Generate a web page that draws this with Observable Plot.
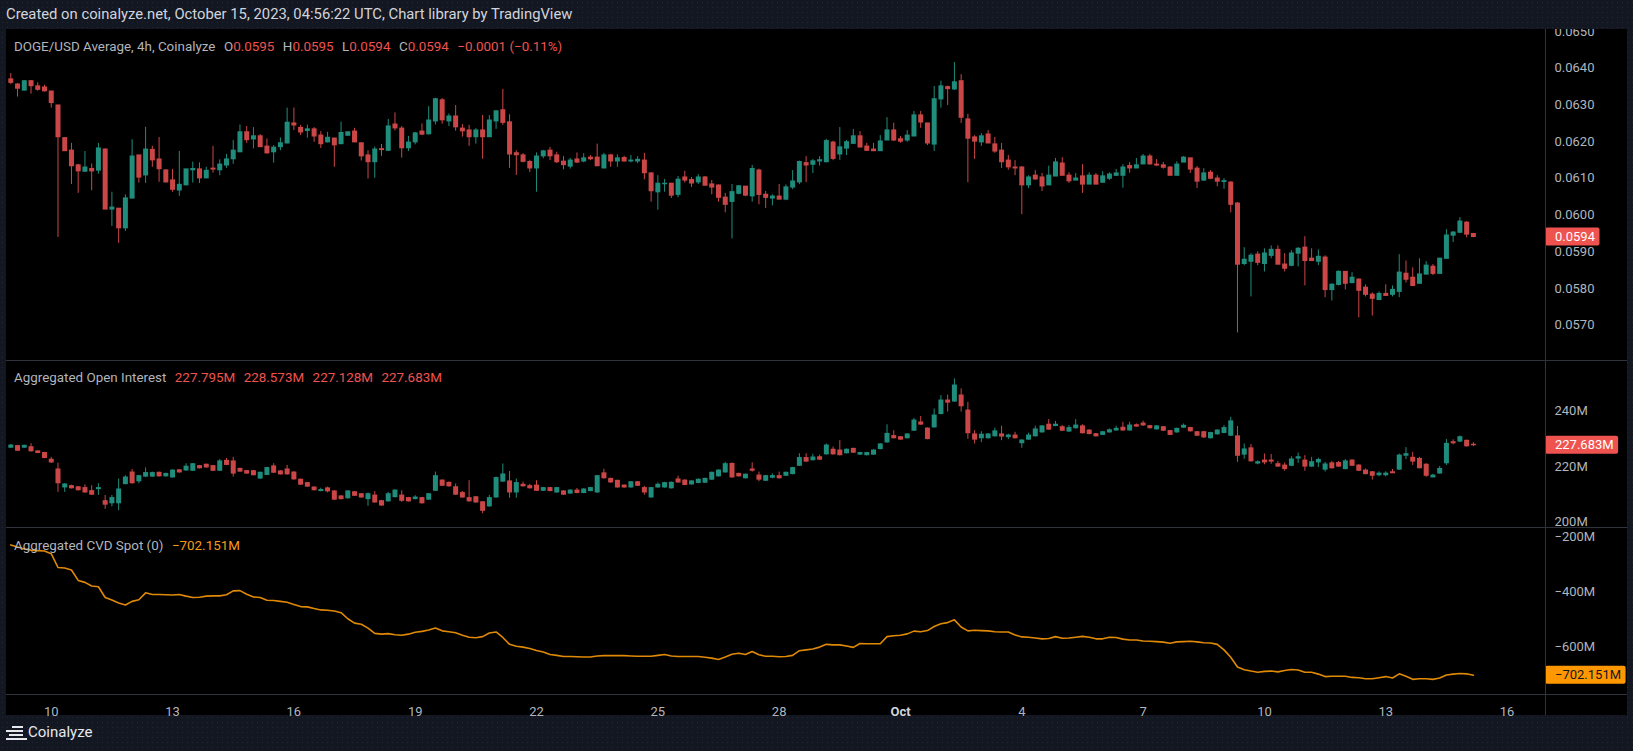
<!DOCTYPE html>
<html><head><meta charset="utf-8">
<script src="https://cdn.jsdelivr.net/npm/d3@7"></script>
<script src="https://cdn.jsdelivr.net/npm/@observablehq/plot@0.6"></script>
<style>
html,body{margin:0;padding:0;background:#131722;}
#root{position:relative;width:1633px;height:751px;overflow:hidden;background-color:#131722;
  background-image:radial-gradient(rgba(255,255,255,0.07) 0.7px, transparent 0.9px);background-size:5px 5px;
  font-family:Roboto, sans-serif;}
#hdr{position:absolute;left:6px;top:4px;font-size:14.8px;line-height:20px;color:#d1d4dc;white-space:nowrap;}
#panel{position:absolute;left:6px;top:29px;width:1621px;height:686px;background:#000;overflow:visible;}
.pane{position:absolute;left:0;}
.leg{position:absolute;left:8px;font-size:13.4px;line-height:18px;color:#b2b5be;white-space:nowrap;}
.leg .v{margin-left:8.5px;}
.red{color:#ef5350;}
.grn{color:#26a69a;}
.org{color:#f59a1b;}
.hl{position:absolute;left:0;width:1621px;height:1px;background:#2f333e;}
.vl{position:absolute;top:0;width:1px;height:686px;background:#2f333e;}
#foot{position:absolute;left:28px;top:722px;font-size:15px;line-height:20px;color:#e6e8ee;}
.ic{position:absolute;height:2px;background:#e6e8ee;}
</style></head>
<body>
<div id="root">
  <div id="hdr">Created on coinalyze.net, October 15, 2023, 04:56:22 UTC, Chart library by TradingView</div>
  <div id="panel"></div>
  <div class="ic" style="left:12px;top:726px;width:11px"></div>
  <div class="ic" style="left:6px;top:730px;width:17px"></div>
  <div class="ic" style="left:9px;top:734px;width:14px"></div>
  <div class="ic" style="left:6px;top:738px;width:21px"></div>
  <div id="foot">Coinalyze</div>
</div>
<script>
// ---------- data ----------
const startTime = "2023-09-09T00:00:00Z";   // first 4h candle
const stepHours = 4;

const priceO = [0.06369,0.06355,0.06339,0.06364,0.06350,0.06347,0.06336,0.06298,0.06209,0.06175,
0.06135,0.06118,0.06125,0.06121,0.06178,0.06015,0.06017,0.05964,0.06045,0.06162,
0.06108,0.06177,0.06151,0.06121,0.06094,0.06067,0.06081,0.06122,0.06124,0.06100,
0.06126,0.06122,0.06135,0.06152,0.06171,0.06225,0.06206,0.06214,0.06186,0.06171,
0.06185,0.06195,0.06249,0.06237,0.06229,0.06233,0.06216,0.06198,0.06208,0.06193,
0.06216,0.06227,0.06195,0.06162,0.06144,0.06179,0.06175,0.06246,0.06235,0.06182,
0.06198,0.06227,0.06220,0.06255,0.06312,0.06255,0.06268,0.06235,0.06230,0.06212,
0.06230,0.06212,0.06255,0.06285,0.06252,0.06168,0.06162,0.06144,0.06127,0.06160,
0.06175,0.06162,0.06145,0.06132,0.06151,0.06146,0.06156,0.06156,0.06127,0.06162,
0.06146,0.06155,0.06146,0.06146,0.06148,0.06113,0.06062,0.06084,0.06085,0.06055,
0.06102,0.06095,0.06089,0.06102,0.06083,0.06080,0.06047,0.06036,0.06058,0.06077,
0.06051,0.06121,0.06055,0.06045,0.06050,0.06042,0.06075,0.06089,0.06141,0.06137,
0.06146,0.06144,0.06197,0.06165,0.06181,0.06194,0.06214,0.06186,0.06178,0.06174,
0.06203,0.06230,0.06206,0.06203,0.06214,0.06271,0.06249,0.06192,0.06315,0.06348,
0.06342,0.06364,0.06260,0.06211,0.06198,0.06219,0.06192,0.06175,0.06148,0.06129,
0.06129,0.06081,0.06107,0.06102,0.06081,0.06105,0.06140,0.06107,0.06094,0.06105,
0.06083,0.06107,0.06088,0.06099,0.06107,0.06107,0.06133,0.06127,0.06138,0.06159,
0.06137,0.06135,0.06129,0.06107,0.06143,0.06154,0.06126,0.06094,0.06115,0.06099,
0.06090,0.06088,0.06031,0.05867,0.05873,0.05892,0.05867,0.05889,0.05905,0.05865,
0.05862,0.05895,0.05911,0.05881,0.05873,0.05884,0.05796,0.05810,0.05845,0.05815,
0.05824,0.05802,0.05783,0.05769,0.05785,0.05783,0.05791,0.05840,0.05829,0.05813,
0.05838,0.05859,0.05840,0.05881,0.05944,0.05952,0.05979,0.05948];

const priceH = [0.06385,0.06358,0.06366,0.06366,0.06360,0.06353,0.06336,0.06298,0.06211,0.06195,
0.06138,0.06173,0.06139,0.06195,0.06180,0.06062,0.06017,0.06055,0.06205,0.06162,
0.06239,0.06187,0.06211,0.06124,0.06124,0.06173,0.06124,0.06144,0.06142,0.06130,
0.06187,0.06150,0.06165,0.06203,0.06245,0.06241,0.06238,0.06219,0.06207,0.06189,
0.06210,0.06291,0.06291,0.06244,0.06245,0.06238,0.06227,0.06225,0.06208,0.06253,
0.06225,0.06236,0.06196,0.06175,0.06185,0.06192,0.06260,0.06278,0.06241,0.06214,
0.06225,0.06248,0.06295,0.06318,0.06317,0.06275,0.06298,0.06246,0.06244,0.06235,
0.06271,0.06271,0.06284,0.06342,0.06273,0.06175,0.06167,0.06149,0.06169,0.06176,
0.06184,0.06171,0.06159,0.06154,0.06169,0.06167,0.06162,0.06193,0.06168,0.06165,
0.06164,0.06160,0.06162,0.06159,0.06168,0.06115,0.06107,0.06097,0.06085,0.06105,
0.06119,0.06102,0.06110,0.06105,0.06094,0.06082,0.06059,0.06083,0.06080,0.06077,
0.06135,0.06125,0.06064,0.06055,0.06083,0.06082,0.06121,0.06147,0.06159,0.06151,
0.06159,0.06206,0.06201,0.06238,0.06203,0.06233,0.06227,0.06195,0.06195,0.06216,
0.06265,0.06250,0.06214,0.06230,0.06282,0.06282,0.06249,0.06350,0.06364,0.06351,
0.06415,0.06382,0.06274,0.06216,0.06222,0.06230,0.06211,0.06195,0.06162,0.06148,
0.06132,0.06107,0.06121,0.06113,0.06133,0.06154,0.06156,0.06115,0.06113,0.06137,
0.06115,0.06113,0.06118,0.06115,0.06124,0.06137,0.06143,0.06154,0.06165,0.06165,
0.06151,0.06143,0.06132,0.06145,0.06159,0.06154,0.06132,0.06126,0.06121,0.06107,
0.06099,0.06091,0.06034,0.05911,0.05895,0.05900,0.05908,0.05916,0.05916,0.05895,
0.05903,0.05911,0.05941,0.05908,0.05905,0.05889,0.05813,0.05848,0.05845,0.05843,
0.05826,0.05810,0.05788,0.05791,0.05810,0.05807,0.05892,0.05875,0.05856,0.05881,
0.05873,0.05865,0.05881,0.05960,0.05955,0.05993,0.05982,0.05950];

const priceL = [0.06355,0.06321,0.06337,0.06329,0.06337,0.06335,0.06291,0.05939,0.06173,0.06083,
0.06059,0.06116,0.06066,0.06111,0.06015,0.05969,0.05923,0.05955,0.06044,0.06087,
0.06086,0.06130,0.06089,0.06087,0.06062,0.06051,0.06080,0.06087,0.06086,0.06099,
0.06114,0.06107,0.06127,0.06138,0.06170,0.06195,0.06180,0.06184,0.06166,0.06141,
0.06175,0.06194,0.06230,0.06216,0.06209,0.06198,0.06181,0.06196,0.06130,0.06192,
0.06215,0.06197,0.06147,0.06098,0.06100,0.06160,0.06173,0.06229,0.06155,0.06173,
0.06191,0.06216,0.06218,0.06245,0.06247,0.06241,0.06228,0.06212,0.06187,0.06193,
0.06152,0.06211,0.06233,0.06244,0.06127,0.06108,0.06142,0.06116,0.06062,0.06153,
0.06148,0.06140,0.06123,0.06125,0.06140,0.06142,0.06148,0.06133,0.06126,0.06130,
0.06130,0.06144,0.06142,0.06140,0.06096,0.06035,0.06013,0.06062,0.06045,0.06047,
0.06087,0.06075,0.06083,0.06079,0.06055,0.06035,0.06006,0.05935,0.06055,0.06050,
0.06035,0.06028,0.06018,0.06025,0.06042,0.06039,0.06069,0.06083,0.06088,0.06113,
0.06133,0.06142,0.06148,0.06149,0.06162,0.06192,0.06184,0.06173,0.06173,0.06173,
0.06203,0.06200,0.06195,0.06198,0.06214,0.06236,0.06189,0.06173,0.06291,0.06298,
0.06339,0.06249,0.06088,0.06151,0.06187,0.06195,0.06168,0.06127,0.06122,0.06107,
0.06001,0.06072,0.06095,0.06064,0.06080,0.06105,0.06107,0.06086,0.06094,0.06059,
0.06083,0.06083,0.06088,0.06094,0.06105,0.06073,0.06114,0.06127,0.06137,0.06136,
0.06132,0.06125,0.06107,0.06107,0.06143,0.06113,0.06072,0.06091,0.06096,0.06077,
0.06070,0.06006,0.05679,0.05862,0.05777,0.05862,0.05845,0.05881,0.05865,0.05845,
0.05859,0.05859,0.05807,0.05875,0.05862,0.05775,0.05766,0.05807,0.05796,0.05813,
0.05720,0.05777,0.05725,0.05769,0.05780,0.05777,0.05775,0.05815,0.05805,0.05813,
0.05838,0.05835,0.05840,0.05881,0.05925,0.05949,0.05938,0.05938];

const priceC = [0.06360,0.06344,0.06364,0.06351,0.06341,0.06337,0.06305,0.06212,0.06174,0.06133,
0.06119,0.06129,0.06119,0.06181,0.06015,0.06020,0.05964,0.06045,0.06159,0.06102,
0.06178,0.06149,0.06125,0.06089,0.06069,0.06082,0.06124,0.06125,0.06100,0.06120,
0.06124,0.06137,0.06151,0.06175,0.06225,0.06204,0.06214,0.06185,0.06168,0.06183,
0.06195,0.06251,0.06244,0.06225,0.06233,0.06214,0.06193,0.06210,0.06190,0.06223,
0.06225,0.06198,0.06160,0.06144,0.06178,0.06177,0.06241,0.06236,0.06182,0.06197,
0.06222,0.06219,0.06257,0.06315,0.06258,0.06268,0.06239,0.06228,0.06212,0.06230,
0.06212,0.06257,0.06282,0.06251,0.06165,0.06163,0.06145,0.06127,0.06159,0.06173,
0.06160,0.06144,0.06136,0.06148,0.06143,0.06154,0.06152,0.06133,0.06162,0.06146,
0.06154,0.06146,0.06148,0.06150,0.06114,0.06065,0.06085,0.06085,0.06053,0.06096,
0.06094,0.06086,0.06102,0.06080,0.06075,0.06047,0.06028,0.06062,0.06078,0.06053,
0.06125,0.06055,0.06047,0.06050,0.06042,0.06075,0.06091,0.06144,0.06135,0.06146,
0.06149,0.06201,0.06153,0.06184,0.06198,0.06214,0.06184,0.06175,0.06174,0.06200,
0.06230,0.06203,0.06200,0.06216,0.06271,0.06252,0.06195,0.06315,0.06350,0.06343,
0.06361,0.06265,0.06208,0.06200,0.06214,0.06195,0.06173,0.06144,0.06130,0.06127,
0.06081,0.06102,0.06097,0.06078,0.06107,0.06143,0.06107,0.06092,0.06099,0.06083,
0.06107,0.06083,0.06105,0.06110,0.06113,0.06129,0.06127,0.06135,0.06159,0.06138,
0.06135,0.06129,0.06107,0.06137,0.06156,0.06124,0.06091,0.06113,0.06099,0.06091,
0.06092,0.06028,0.05865,0.05878,0.05889,0.05870,0.05895,0.05905,0.05865,0.05854,
0.05895,0.05908,0.05875,0.05875,0.05886,0.05796,0.05810,0.05845,0.05813,0.05829,
0.05794,0.05783,0.05772,0.05785,0.05780,0.05796,0.05843,0.05824,0.05807,0.05838,
0.05862,0.05840,0.05881,0.05944,0.05952,0.05982,0.05947,0.059404];

const oiO = [226.8,227.3,226.8,226.9,225.4,224.8,222.4,218.9,212.5,212.9,
212.5,212.2,211.1,211.9,207.5,206.8,206.8,213.7,217.8,214.7,
216.4,216.4,217.7,216.5,216.1,218.6,218.6,218.5,220.1,220.6,
220.1,218.5,222.0,221.8,219.1,218.3,218.3,215.7,217.0,220.0,
218.2,218.9,217.8,215.2,214.0,212.4,211.2,212.1,211.0,209.2,
208.6,210.7,210.0,208.3,209.5,207.5,207.5,209.0,209.5,208.6,
208.3,208.6,208.1,211.3,214.9,214.1,212.5,210.4,208.6,208.9,
207.1,205.7,208.9,214.6,214.6,210.7,213.4,212.9,213.1,211.3,
212.2,210.7,211.0,210.3,211.3,210.5,211.2,210.7,217.5,215.5,
214.8,213.1,212.5,214.3,212.2,208.9,212.5,212.5,212.2,215.3,
214.9,213.6,214.1,214.2,215.3,216.5,217.9,220.9,217.3,215.8,
218.9,216.7,214.9,216.0,216.5,216.7,217.3,220.3,223.0,222.3,
223.3,224.4,226.0,225.7,224.8,226.3,224.3,224.1,224.3,226.3,
228.7,230.9,230.5,230.2,232.9,235.8,233.6,234.1,238.9,243.7,
243.4,245.5,240.1,231.5,230.2,230.2,230.9,231.5,230.6,231.1,
228.4,229.7,230.9,232.3,235.0,234.6,234.1,232.6,233.8,234.4,
232.9,231.6,231.4,232.3,233.0,233.9,233.0,234.8,235.4,234.5,
233.4,234.1,232.7,232.3,234.0,233.8,232.3,232.3,230.2,231.6,
232.1,231.1,230.8,224.3,226.5,221.1,222.1,222.1,220.8,220.3,
220.3,222.9,222.1,220.0,221.5,218.9,221.1,221.2,219.1,222.1,
220.3,218.5,217.9,216.9,216.9,217.9,218.9,223.9,223.1,222.7,
220.6,216.1,217.5,221.2,228.7,229.0,229.2,227.795];

const oiH = [227.9,227.6,227.7,228.2,225.7,225.1,223.3,221.2,213.8,213.3,
212.8,213.4,213.1,213.8,209.6,209.6,215.5,216.7,218.9,216.8,
219.5,218.0,218.0,217.6,218.8,218.9,221.0,221.1,220.4,220.9,
220.4,222.5,222.9,223.3,219.4,218.6,218.6,218.0,219.7,221.0,
218.5,220.4,218.1,215.5,214.3,212.7,212.2,212.6,211.3,209.5,
211.3,211.0,210.3,210.5,211.0,207.8,210.7,211.6,211.3,208.9,
209.5,208.9,210.3,218.0,215.2,214.4,213.7,211.0,214.9,209.2,
207.4,209.6,216.2,220.9,218.2,215.5,214.4,213.6,214.9,212.5,
212.5,212.5,211.3,211.6,212.1,212.0,212.5,216.8,219.0,215.8,
215.1,213.4,214.6,214.6,212.9,212.5,214.1,214.3,214.4,216.5,
215.2,214.9,215.5,215.8,218.0,218.8,221.5,221.2,217.6,217.3,
221.3,218.0,216.8,217.3,218.0,218.0,219.7,224.6,224.6,224.4,
224.1,228.1,227.0,229.3,226.3,226.6,225.1,225.1,226.0,228.2,
235.0,232.9,230.8,231.8,237.3,238.0,233.9,240.7,245.5,245.7,
251.5,247.9,243.1,232.9,232.5,231.8,233.8,234.5,231.6,232.3,
229.6,232.0,234.5,234.7,236.9,236.2,234.7,234.7,236.9,235.0,
233.2,231.9,232.6,233.5,234.5,235.9,235.9,235.3,236.3,234.8,
234.7,234.4,233.0,233.8,235.3,234.1,232.6,232.6,232.3,233.2,
234.7,237.7,234.4,228.1,227.9,222.0,224.5,224.3,221.8,221.3,
223.5,224.8,223.9,223.3,223.0,221.5,221.8,221.8,222.5,222.4,
220.6,219.1,218.2,218.1,218.1,218.9,224.5,226.8,225.1,223.3,
221.0,217.2,220.0,229.7,229.6,231.0,229.5,228.573];

const oiL = [226.5,225.4,226.5,225.2,224.6,222.8,221.1,210.7,210.7,211.9,
211.2,210.4,209.6,209.6,204.6,205.5,204.1,213.4,213.7,213.8,
216.0,216.1,216.2,216.2,215.8,217.6,218.3,218.2,219.1,219.4,
218.2,218.2,220.3,216.2,217.9,217.2,216.6,215.4,216.7,217.5,
216.9,216.9,215.1,213.2,212.5,211.2,210.9,210.5,207.8,208.0,
208.3,209.2,208.6,205.7,206.8,205.7,207.2,208.7,207.1,207.2,
208.0,206.5,207.8,211.0,212.8,212.6,209.6,208.6,207.2,206.8,
203.0,205.3,208.6,214.3,208.6,208.6,212.6,211.9,211.0,211.0,
210.9,210.4,209.6,210.0,210.2,210.2,210.9,210.4,215.5,214.0,
212.2,212.2,212.2,212.8,209.7,208.6,212.2,212.2,211.9,214.0,
213.1,213.3,213.8,213.9,215.0,216.2,217.6,215.8,216.2,215.5,
218.0,214.5,214.6,215.6,215.5,216.4,217.0,220.0,221.5,222.0,
222.2,224.1,224.1,223.8,224.5,224.7,224.0,223.8,224.0,226.0,
228.4,229.9,229.4,229.9,232.6,234.8,229.6,233.8,238.6,239.6,
243.1,239.6,229.8,228.1,228.6,229.9,230.6,229.3,229.7,229.9,
226.6,229.4,230.6,232.0,233.0,234.3,232.6,232.3,233.5,231.7,
231.4,230.6,231.1,232.0,232.7,232.7,232.7,234.1,234.5,233.5,
233.1,232.6,231.1,232.0,233.7,232.4,230.8,230.1,229.9,231.3,
231.8,230.8,221.5,222.6,221.6,220.6,220.6,220.8,219.7,218.3,
220.0,221.1,218.3,219.7,219.6,218.0,219.1,219.7,218.8,220.0,
218.2,217.0,215.1,216.3,216.3,217.5,218.6,222.5,220.4,219.2,
216.1,216.0,217.2,220.4,227.8,228.6,227.0,227.128];

const oiC = [227.5,225.7,227.4,225.5,224.9,223.1,221.5,214.0,213.5,212.2,
211.5,210.7,209.9,212.2,206.3,208.6,211.7,216.0,214.0,216.5,
217.6,217.6,216.5,217.3,218.5,217.9,219.9,220.8,219.4,219.7,
218.5,221.8,220.6,217.5,218.2,217.5,216.9,217.7,219.4,217.8,
217.2,217.2,215.4,213.5,212.8,211.5,211.5,211.1,208.1,208.3,
211.0,209.5,208.9,210.0,207.1,206.0,210.0,211.3,207.7,207.5,
208.8,206.8,210.0,216.5,213.1,212.9,209.9,208.9,207.5,207.1,
204.1,208.6,215.8,217.1,210.7,214.0,212.9,212.2,211.3,212.2,
211.2,212.2,209.9,211.3,210.5,211.7,212.2,216.5,215.8,214.3,
212.5,212.5,214.3,213.1,210.7,212.2,213.4,214.0,214.1,214.3,
213.4,214.6,215.2,215.5,217.7,218.5,220.8,216.1,216.5,217.0,
218.5,215.3,216.5,216.5,215.8,217.7,219.4,223.0,221.8,223.2,
222.5,227.5,224.4,224.1,226.0,225.0,224.8,224.8,225.7,227.9,
231.7,230.2,229.7,231.5,236.5,235.1,229.9,238.3,243.7,243.0,
249.1,241.7,232.0,229.7,231.4,231.5,232.6,230.8,231.1,230.2,
229.3,231.1,233.3,234.4,233.3,235.0,232.9,233.8,234.7,232.0,
231.7,230.9,232.3,233.0,233.5,233.0,234.7,234.4,234.8,233.8,
234.4,232.9,231.4,233.5,234.6,232.7,231.1,230.5,232.0,232.9,
233.8,236.2,223.9,226.1,221.9,221.5,221.5,221.8,220.0,219.1,
222.5,223.3,220.0,221.5,222.3,220.7,219.4,220.0,221.8,220.3,
218.5,217.3,216.7,217.4,217.4,217.6,223.9,224.4,221.8,219.4,
216.7,216.7,219.1,228.1,228.4,230.5,227.3,227.683];

const cvd = [-229,-237,-244,-248,-250,-251,-261,-311,-313,-320,
-358,-365,-378,-381,-420,-429,-440,-447,-434,-428,
-403,-409,-409,-410,-411,-409,-415,-420,-419,-415,
-414,-414,-410,-396,-395,-408,-418,-420,-430,-431,
-434,-437,-445,-453,-454,-460,-465,-466,-469,-475,
-497,-513,-517,-531,-550,-553,-551,-555,-557,-553,
-546,-543,-538,-531,-541,-544,-548,-557,-564,-566,
-562,-549,-545,-565,-590,-597,-600,-605,-612,-618,
-627,-630,-634,-634,-635,-636,-636,-632,-631,-631,
-631,-631,-632,-633,-633,-633,-630,-627,-632,-634,
-634,-634,-634,-637,-640,-645,-636,-626,-622,-627,
-616,-628,-633,-633,-635,-634,-630,-613,-610,-607,
-600,-590,-592,-592,-596,-601,-587,-588,-588,-588,
-562,-559,-557,-552,-542,-544,-540,-525,-515,-511,
-501,-527,-541,-539,-540,-541,-544,-545,-545,-556,
-563,-564,-567,-570,-569,-562,-568,-567,-564,-561,
-564,-570,-570,-564,-565,-571,-574,-574,-578,-579,
-580,-582,-586,-581,-580,-579,-581,-584,-585,-590,
-610,-637,-672,-682,-687,-691,-688,-687,-690,-685,
-681,-683,-691,-691,-698,-707,-706,-706,-706,-710,
-711,-715,-715,-711,-707,-712,-697,-706,-717,-715,
-715,-717,-712,-701,-698,-696,-697,-702.151];

const priceTicks = [0.0570,0.0580,0.0590,0.0600,0.0610,0.0620,0.0630,0.0640,0.0650];
const oiTicks = [200,220,240];
const cvdTicks = [-600,-400,-200];
const dateTicks = ["2023-09-10","2023-09-13","2023-09-16","2023-09-19","2023-09-22","2023-09-25","2023-09-28","2023-10-01","2023-10-04","2023-10-07","2023-10-10","2023-10-13","2023-10-16"];
const dateTickLabels = ["10","13","16","19","22","25","28","Oct","4","7","10","13","16"];

// ---------- layout / style ----------
const W = 1621, MR = 82;
const H_PRICE = 331, H_OI = 167, H_CVD = 167, H_AX = 21;
const upColor = "#1f8c7c", downColor = "#cb4747", labelRed = "#ef5350", cvdColor = "#df8906";
const t0 = new Date(startTime).getTime(), step = stepHours * 3600 * 1000;
const xDomain = [new Date(t0 - 0.638 * step), new Date(t0 + 227.7 * step)];
const baseStyle = {background: "transparent", color: "#b2b5be", fontFamily: "Roboto, sans-serif", fontSize: "13px", overflow: "hidden"};

function rows(O, Hh, L, C) {
  return O.map((o, i) => ({t: new Date(t0 + i * step), o, h: Hh[i], l: L[i], c: C[i]}));
}
function candles(data) {
  const col = d => d.c >= d.o ? upColor : downColor;
  return [
    Plot.ruleX(data, {x: "t", y1: "l", y2: "h", stroke: col, strokeWidth: 1}),
    Plot.ruleX(data, {x: "t", y1: d => Math.max(d.o, d.c), y2: d => Math.min(d.o, d.c), stroke: col, strokeWidth: 5, insetTop: -0.6, insetBottom: -0.6})
  ];
}

const panel = document.getElementById("panel");
function place(el, top) { el.classList.add("pane"); el.style.top = top + "px"; panel.appendChild(el); return el; }

const priceRows = rows(priceO, priceH, priceL, priceC);
const pricePlot = Plot.plot({
  width: W, height: H_PRICE, marginLeft: 0, marginRight: MR, marginTop: 0, marginBottom: 0,
  style: baseStyle,
  x: {type: "utc", domain: xDomain, axis: null},
  y: {domain: [0.05604, 0.06505], axis: null},
  marks: [
    Plot.axisY({anchor: "right", ticks: priceTicks, tickFormat: d => d.toFixed(4), tickSize: 0, tickPadding: 9, label: null}),
    ...candles(priceRows)
  ]
});
place(pricePlot, 0);

const oiRows = rows(oiO, oiH, oiL, oiC);
const oiPlot = Plot.plot({
  width: W, height: H_OI, marginLeft: 0, marginRight: MR, marginTop: 0, marginBottom: 0,
  style: baseStyle,
  x: {type: "utc", domain: xDomain, axis: null},
  y: {domain: [198.06, 258.13], axis: null},
  marks: [
    Plot.axisY({anchor: "right", ticks: oiTicks, tickFormat: d => d + "M", tickSize: 0, tickPadding: 9, label: null}),
    ...candles(oiRows)
  ]
});
place(oiPlot, H_PRICE);

const cvdRows = cvd.map((v, i) => ({t: new Date(t0 + i * step), v}));
const tickDates = dateTicks.map(s => new Date(s + "T00:00:00Z"));
const labelOf = new Map(tickDates.map((d, i) => [d.getTime(), dateTickLabels[i]]));
const boldIdx = dateTickLabels.indexOf("Oct");
const cvdPlot = Plot.plot({
  width: W, height: H_CVD + H_AX, marginLeft: 0, marginRight: MR, marginTop: 0, marginBottom: H_AX,
  style: {...baseStyle, overflow: "visible"},
  x: {type: "utc", domain: xDomain},
  y: {domain: [-772.0, -165.9], axis: null},
  marks: [
    Plot.axisY({anchor: "right", ticks: cvdTicks, tickFormat: d => "\u2212" + Math.abs(d) + "M", tickSize: 0, tickPadding: 9, label: null}),
    Plot.axisX({anchor: "bottom", ticks: tickDates.filter((d, i) => i !== boldIdx), tickFormat: d => labelOf.get(d.getTime()), tickSize: 0, tickPadding: 12, label: null}),
    Plot.axisX({anchor: "bottom", ticks: [tickDates[boldIdx]], tickFormat: d => labelOf.get(d.getTime()), tickSize: 0, tickPadding: 12, label: null, fontWeight: "bold", fill: "#d1d4dc"}),
    Plot.lineY(cvdRows, {x: "t", y: "v", stroke: cvdColor, strokeWidth: 1.6})
  ]
});
place(cvdPlot, H_PRICE + H_OI);

// separators
[H_PRICE, H_PRICE + H_OI, H_PRICE + H_OI + H_CVD].forEach(y => {
  const d = document.createElement("div"); d.className = "hl"; d.style.top = y + "px"; panel.appendChild(d);
});
const vl = document.createElement("div"); vl.className = "vl"; vl.style.left = (W - MR) + "px"; panel.appendChild(vl);

// last-value tags on the right axis
function tag(plot, value, text, fill, textColor) {
  const y = plot.scale("y").apply(value);
  const g = d3.select(plot).append("g").attr("text-anchor", "start");
  const r = g.append("rect").attr("x", W - MR).attr("y", y - 9).attr("height", 18).attr("rx", 2).attr("fill", fill);
  const t = g.append("text").attr("x", W - MR + 10).attr("y", y).attr("dy", "0.35em").attr("text-anchor", "start")
    .attr("fill", textColor).attr("font-size", 13).attr("font-family", "Roboto, sans-serif").text(text);
  r.attr("width", t.node().getComputedTextLength() + 14.5);
}
const n = priceC.length - 1;
const lastUpP = priceC[n] >= priceO[n], lastUpOI = oiC[n] >= oiO[n];
tag(pricePlot, priceC[n], priceC[n].toFixed(4), lastUpP ? upColor : labelRed, "#ffffff");
tag(oiPlot, oiC[n], oiC[n].toFixed(3) + "M", lastUpOI ? upColor : labelRed, "#ffffff");
tag(cvdPlot, cvd[n], "\u2212" + Math.abs(cvd[n]).toFixed(3) + "M", "#ff9800", "#131722");

// legends
const minus = s => s.replace("-", "\u2212");
const chg = priceC[n] - priceC[n - 1];
const pct = chg / priceC[n - 1] * 100;
const pcls = lastUpP ? "grn" : "red";
const ocls = lastUpOI ? "grn" : "red";
function addLeg(top, html) {
  const d = document.createElement("div"); d.className = "leg"; d.style.top = top + "px"; d.innerHTML = html; panel.appendChild(d);
}
const ohlc = (k, v) => `<span class="v">${k}<span class="${pcls}">${v}</span></span>`;
addLeg(8.7, `DOGE/USD Average, 4h, Coinalyze${ohlc("O", priceO[n].toFixed(4))}${ohlc("H", priceH[n].toFixed(4))}${ohlc("L", priceL[n].toFixed(4))}${ohlc("C", priceC[n].toFixed(4))}<span class="v ${pcls}">${minus(chg.toFixed(4))} (${minus(pct.toFixed(2))}%)</span>`);
addLeg(340.3, `Aggregated Open Interest${[oiO[n], oiH[n], oiL[n], oiC[n]].map(v => `<span class="v ${ocls}">${v.toFixed(3)}M</span>`).join("")}`);
addLeg(507.7, `Aggregated CVD Spot (0)<span class="v org">${"\u2212" + Math.abs(cvd[n]).toFixed(3)}M</span>`);
</script>
</body></html>
